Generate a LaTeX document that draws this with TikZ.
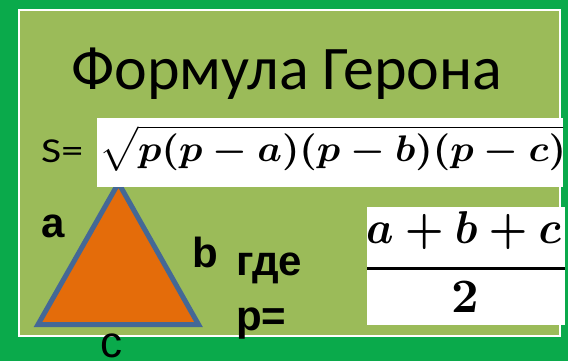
\documentclass[tikz,border=0pt]{standalone}
\usepackage[no-math]{fontspec}
\setmainfont{Carlito}
\newfontfamily\arialf{Liberation Sans}
\usepackage{graphicx}
\definecolor{outergreen}{RGB}{10,170,75}
\definecolor{panelgreen}{RGB}{155,187,89}
\definecolor{triorange}{RGB}{228,108,10}
\definecolor{triblue}{RGB}{68,104,150}
\newcommand{\heronroot}{\scalebox{3.9}[3.7]{\mathversion{bold}$\sqrt{\rule{0pt}{0.8em}p(p-a)(p-b)(p-c)}$}}
\newcommand{\heronnum}{\scalebox{4.35}[4.6]{\mathversion{bold}$a+b+c$}}
\newcommand{\herondenom}{\scalebox{4.8}{\mathversion{bold}$2$}}
\tikzset{
  txt/.style={inner sep=0pt, anchor=base west, text=black},
  boldlbl/.style={txt, font=\arialf\bfseries\fontsize{42}{42}\selectfont},
  whitebox/.style={fill=white, draw=none}
}
\begin{document}
\begin{tikzpicture}[x=1pt,y=-1pt]
\useasboundingbox (0,0) rectangle (568,361);
\fill[outergreen] (0,0) rectangle (568,361);
\draw[white, line width=2pt, fill=panelgreen] (19,10) rectangle (560,336);
% title
\node[inner sep=0pt, anchor=base] (title) at (287,90)
  {\fontsize{62}{62}\selectfont Формула Герона};
% triangle
\coordinate (A) at (118.5,183);
\coordinate (B) at (38,324.5);
\coordinate (C) at (198.5,324.5);
\filldraw[fill=triorange, draw=triblue, line width=5pt, line join=miter] (A) -- (B) -- (C) -- cycle;
% S=
\node[txt] (S) at (41,162) {\scalebox{1.25}[1]{\fontsize{35}{35}\selectfont S=}};
% sqrt box
\fill[whitebox] (97,118) rectangle (563,187);
\begin{scope}
\clip (97,118) rectangle (563,187);
\node[txt] (sq) at (99,161) {\heronroot};
\end{scope}
% labels
\node[boldlbl] (la) at (41,237) {a};
\node[boldlbl] (lb) at (192,267) {b};
\node[txt, font=\arialf\fontsize{44}{44}\selectfont] (lc) at (100,357) {c};
\node[boldlbl] (gde) at (236,275) {где};
\node[boldlbl] (peq) at (236,330) {p=};
% fraction box
\fill[whitebox] (367,207) rectangle (565,325);
\begin{scope}
\clip (367,207) rectangle (565,325);
\node[txt] (numr) at (366,243) {\heronnum};
\coordinate (r1) at (367,268);
\coordinate (r2) at (565,268);
\draw[line width=3pt] (r1) -- (r2);
\node[inner sep=0pt, anchor=base] (den) at (465,312) {\herondenom};
\end{scope}
\end{tikzpicture}
\end{document}
